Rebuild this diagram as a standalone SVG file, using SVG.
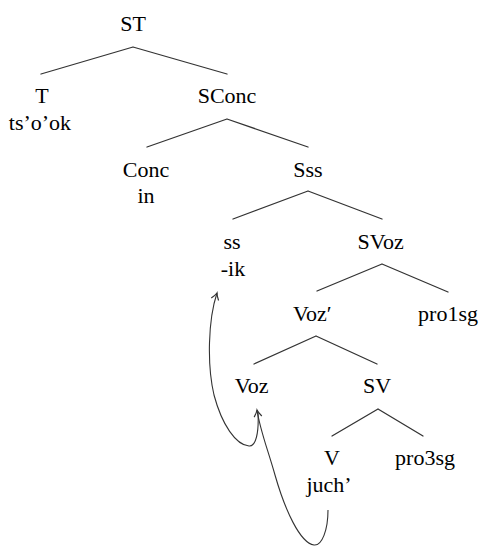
<svg xmlns="http://www.w3.org/2000/svg" width="482" height="546" viewBox="0 0 482 546">
<defs>
  <marker id="arr" markerUnits="userSpaceOnUse" markerWidth="12" markerHeight="12" viewBox="-7 -5 9 10" refX="0" refY="0" orient="auto">
    <path d="M -5.5 -3.2 Q -2 -0.6 0 0 Q -2 0.6 -5.5 3.2" stroke="#333" stroke-width="1" fill="none"/>
  </marker>
</defs>
<rect width="482" height="546" fill="#fff"/>
<g id="connectors" stroke="#333" fill="none">
  <g stroke-width="1.3" stroke-linecap="round">
    <path d="M133 47 L41 74 M133 47 L227 74"/>
    <path d="M227 119 L147 147 M227 119 L308 147"/>
    <path d="M308 191 L233 219 M308 191 L382 219"/>
    <path d="M382 264 L317 291 M382 264 L448 292"/>
    <path d="M316 336 L254 364 M316 336 L377 364"/>
    <path d="M378 409 L332 436 M378 409 L423 436"/>
  </g>
  <g stroke-width="1.1">
    <path marker-end="url(#arr)" d="M258 413 C259 432 256 447 249 446 C236 445 222 425 214 395 C207 365 208 320 217 293"/>
    <path marker-end="url(#arr)" d="M328 510 C328 530 322 546 314 545 C300 543 285 510 275 475 C267 447 260 430 257 410"/>
  </g>
</g>
<g id="ST"><text x="120.2" y="31" font-size="22" font-family="Liberation Serif">ST</text></g>
<g id="T"><text x="35.3" y="103" font-size="22" font-family="Liberation Serif">T</text><text x="8.8" y="130" font-size="22" font-family="Liberation Serif">ts’o’ok</text></g>
<g id="SConc"><text x="197.7" y="103" font-size="22" font-family="Liberation Serif">SConc</text></g>
<g id="Conc"><text x="122.8" y="177" font-size="22" font-family="Liberation Serif">Conc</text><text x="137.4" y="203" font-size="22" font-family="Liberation Serif">in</text></g>
<g id="Sss"><text x="293.3" y="177" font-size="22" font-family="Liberation Serif">Sss</text></g>
<g id="ss"><text x="223.4" y="249" font-size="22" font-family="Liberation Serif">ss</text><text x="220.8" y="276" font-size="22" font-family="Liberation Serif">-ik</text></g>
<g id="SVoz"><text x="357.6" y="249" font-size="22" font-family="Liberation Serif">SVoz</text></g>
<g id="VozBar"><text x="293" y="321" font-size="22" font-family="Liberation Serif">Voz′</text></g>
<g id="pro1sg"><text x="418.1" y="321" font-size="22" font-family="Liberation Serif">pro1sg</text></g>
<g id="Voz"><text x="234.7" y="393" font-size="22" font-family="Liberation Serif">Voz</text></g>
<g id="SV"><text x="362.9" y="393" font-size="22" font-family="Liberation Serif">SV</text></g>
<g id="V"><text x="324.1" y="465" font-size="22" font-family="Liberation Serif">V</text><text x="306.4" y="492" font-size="22" font-family="Liberation Serif">juch’</text></g>
<g id="pro3sg"><text x="395.1" y="465" font-size="22" font-family="Liberation Serif">pro3sg</text></g>
</svg>
